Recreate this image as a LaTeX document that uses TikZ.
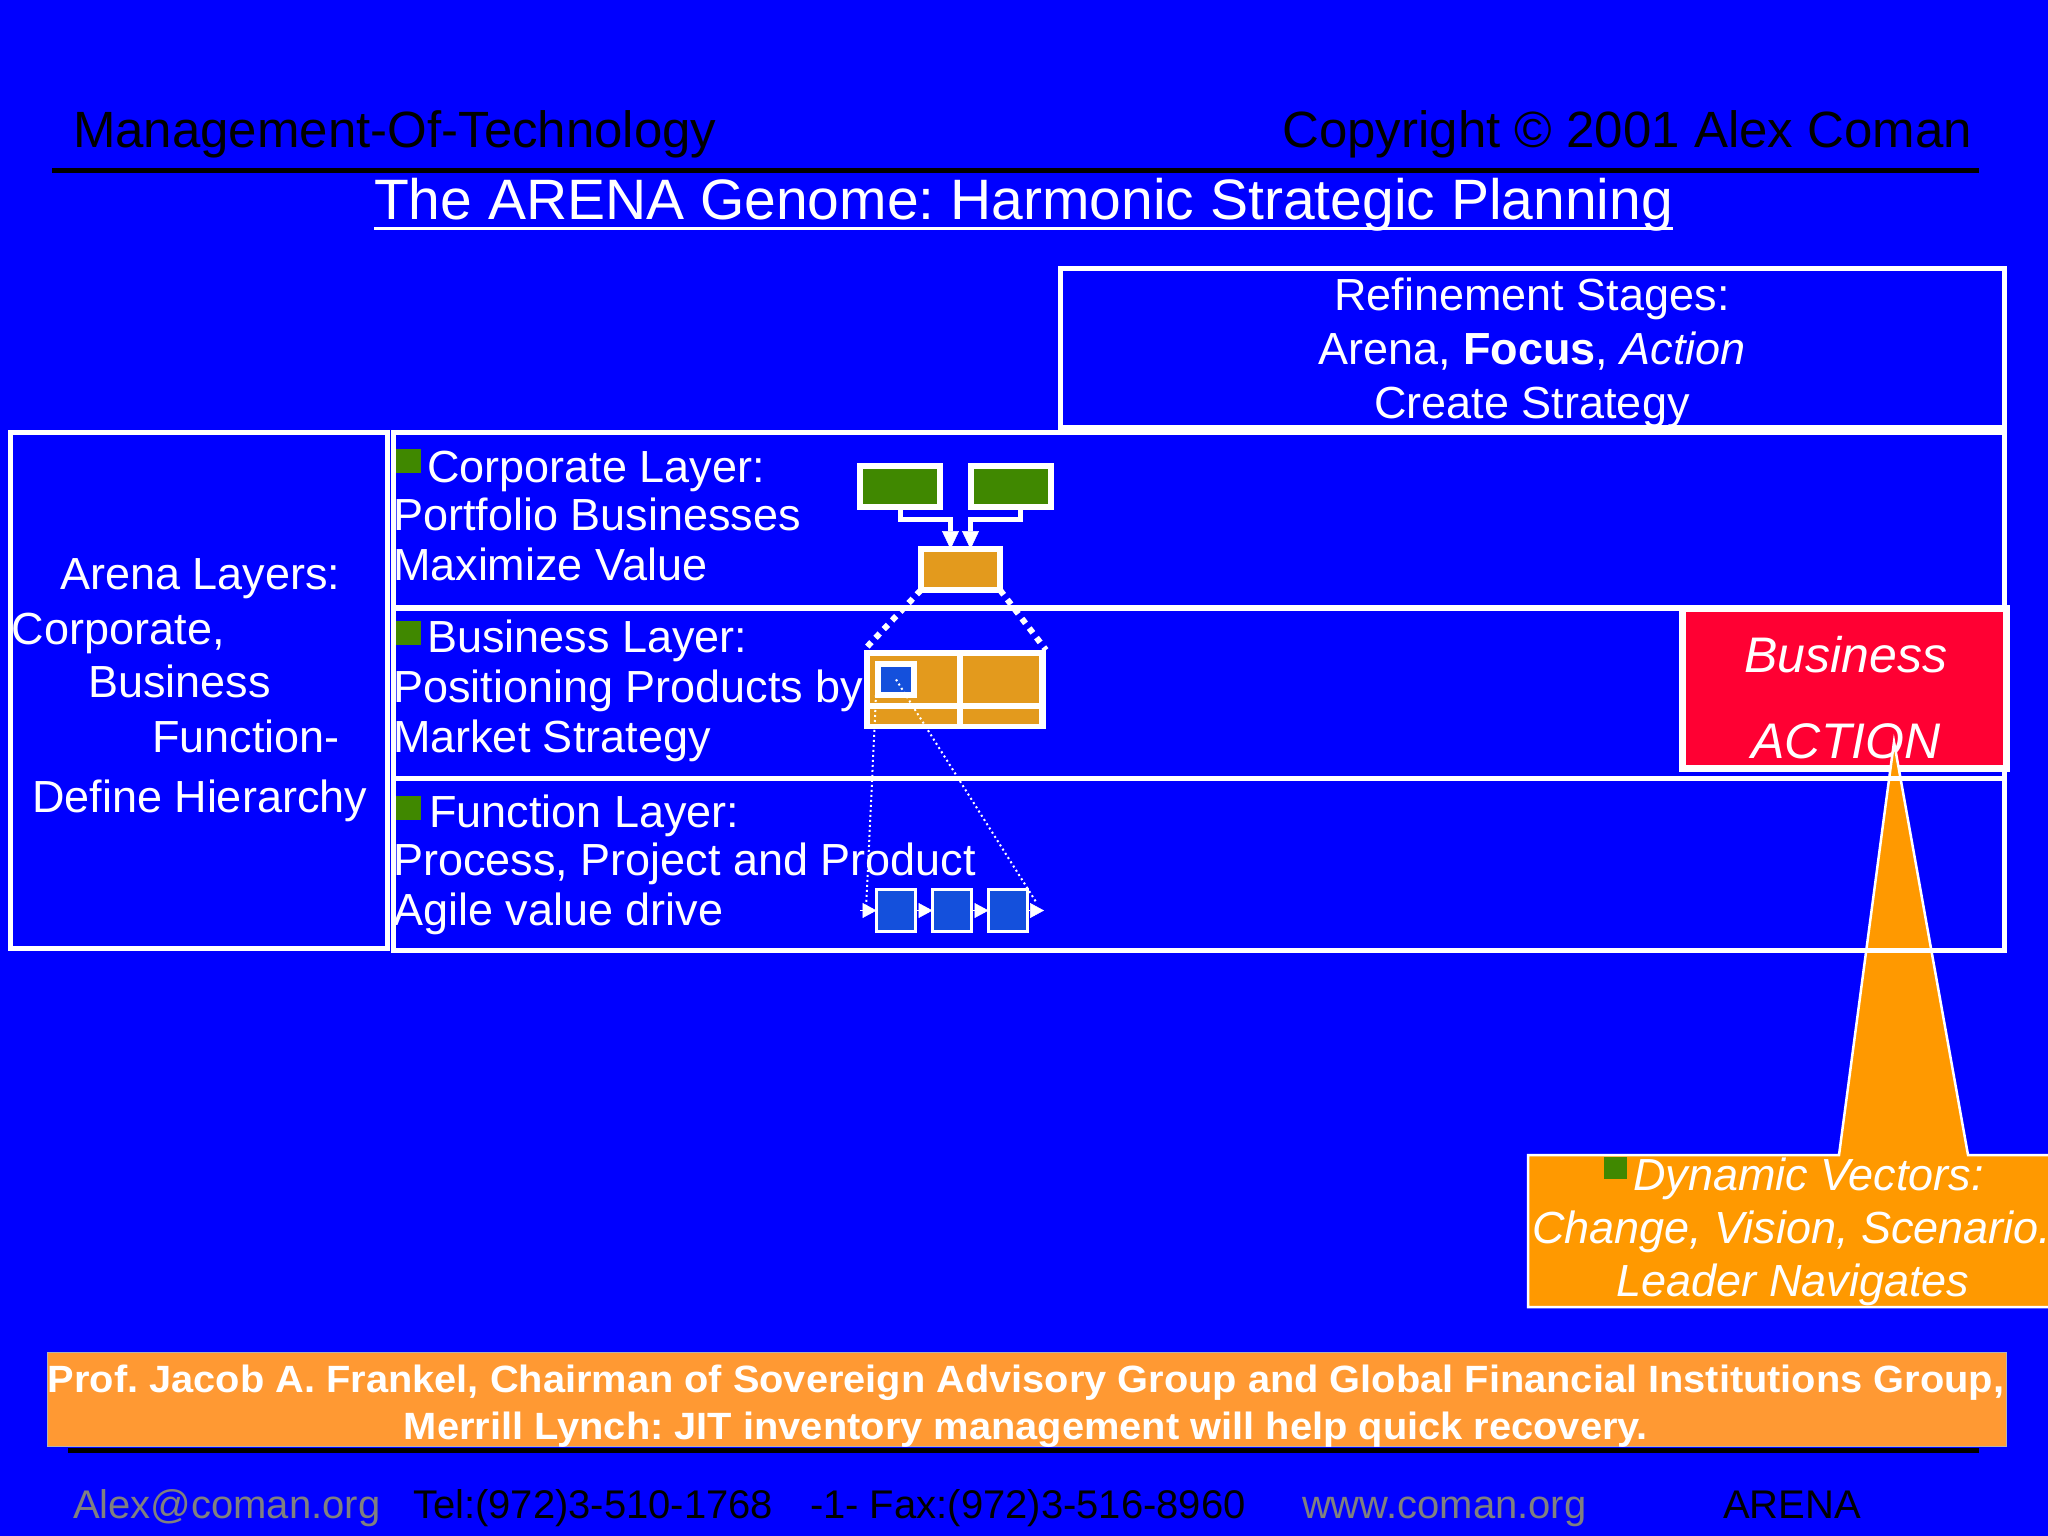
\documentclass[tikz,border=0pt]{standalone}
\usepackage{fontspec}
\setmainfont{Liberation Sans}
\usepackage{graphicx}
\usetikzlibrary{arrows.meta,calc}
\definecolor{bg}{RGB}{0,0,255}
\definecolor{lgreen}{RGB}{64,136,0}
\definecolor{dorange}{RGB}{227,154,29}
\definecolor{sblue}{RGB}{20,80,220}
\definecolor{red1}{RGB}{255,0,51}
\definecolor{corange}{RGB}{255,153,0}
\definecolor{qorange}{RGB}{255,153,51}
\definecolor{fgray}{RGB}{128,128,128}
\frenchspacing
\begin{document}
\begin{tikzpicture}[x=1pt,y=-1pt,
  txt/.style={inner sep=0pt, outer sep=0pt, text=white, font=\fontsize{45}{54}\selectfont},
  itxt/.style={txt, font=\fontsize{45}{54}\selectfont\itshape},
  hdr/.style={inner sep=0pt, outer sep=0pt, text=black, font=\fontsize{51}{60}\selectfont},
  foot/.style={inner sep=0pt, outer sep=0pt, font=\fontsize{40}{48}\selectfont},
  frame/.style={draw=white, line width=5pt, inner sep=0pt, outer sep=0pt, anchor=north west},
  bullet/.style={fill=lgreen, inner sep=0pt, outer sep=0pt, minimum width=25pt, minimum height=24pt, anchor=north west},
  gbox/.style={draw=white, line width=6pt, fill=lgreen, inner sep=0pt, outer sep=0pt, anchor=north west, minimum width=80pt, minimum height=41pt},
  obox/.style={draw=white, line width=6pt, fill=dorange, inner sep=0pt, outer sep=0pt, anchor=north west, minimum width=79pt, minimum height=41pt},
  fbox/.style={draw=white, line width=3pt, fill=sblue, inner sep=0pt, outer sep=0pt, anchor=center, minimum width=39pt, minimum height=42pt},
  conn/.style={draw=white, line width=5pt, -{Triangle[length=18pt,width=17pt,line width=0.5pt]}},
  tipA/.style={draw=white, line width=1pt, -{Triangle[length=14pt,width=15pt,line width=0.5pt]}},
  dotthick/.style={draw=white, line width=6pt, dash pattern=on 6pt off 6pt},
  dotthin/.style={draw=white, line width=2pt, dash pattern=on 2pt off 3pt}
]
\useasboundingbox (0,0) rectangle (2048,1536);
\fill[bg] (0,0) rectangle (2048,1536);

% header
\node[hdr, anchor=base west] (hl) at (73,148) {Management-Of-Technology};
\node[hdr, anchor=base east] (hr) at (1972,148) {Copyright © 2001 Alex Coman};
\coordinate (r1) at (52,170);
\coordinate (r2) at (1979,170);
\draw[black, line width=5pt] (r1) -- (r2);
\node[txt, font=\fontsize{57}{66}\selectfont, anchor=base] (title) at (1023.5,219) {The ARENA Genome: Harmonic Strategic Planning};
\draw[white, line width=3pt] ([yshift=-9pt]title.base west) -- ([yshift=-9pt]title.base east);

% refinement box
\node[frame, minimum width=944pt, minimum height=159pt] (refine) at (1060.5,268.5) {};
\node[txt, anchor=base] (rf1) at (1532,310) {Refinement Stages:};
\node[txt, anchor=base] (rf2) at (1532,364) {Arena, \textbf{Focus}, \textit{Action}};
\node[txt, anchor=base] (rf3) at (1532,418) {Create Strategy};

% left box
\node[frame, minimum width=377.5pt, minimum height=516pt] (left) at (10,432.5) {};
\node[txt, anchor=base west] (al1) at (60,589) {Arena Layers:};
\node[txt, anchor=base west] (al2) at (12,644) {Corporate,};
\node[txt, anchor=base west] (al3) at (88,697) {Business};
\node[txt, anchor=base west] (al4) at (152,752) {Function-};
\node[txt, anchor=base west] (al5) at (32,812) {Define Hierarchy};

% layer boxes
\node[frame, minimum width=1611.5pt, minimum height=175pt] (corpL) at (393,432.5) {};
\node[frame, minimum width=1611.5pt, minimum height=170pt] (busL) at (393,608) {};

% layer texts
\node[bullet] (b1) at (396,449) {};
\node[txt, anchor=base west] (c1) at (427,482) {Corporate Layer:};
\node[txt, anchor=base west] (c2) at (393,530) {Portfolio Businesses};
\node[txt, anchor=base west] (c3) at (393,580) {Maximize Value};
\node[bullet] (b2) at (396,621) {};
\node[txt, anchor=base west] (d1) at (427,652) {Business Layer:};
\node[txt, anchor=base west] (d2) at (393,702) {Positioning Products by};
\node[txt, anchor=base west] (d3) at (393,752) {Market Strategy};
\node[bullet] (b3) at (396,796) {};
\node[txt, anchor=base west] (e1) at (429,827) {Function Layer:};
\node[txt, anchor=base west] (e2) at (393,875) {Process, Project and Product};
\node[txt, anchor=base west] (e3) at (393,925) {Agile value drive};

% small diagram
\node[gbox] (G1) at (860,466) {};
\node[gbox] (G2) at (971,466) {};
\node[obox] (corp) at (921,549) {};
\draw[conn] (G1.south) -- ++(0,12) -| ([xshift=-10pt]corp.north);
\draw[conn] ([xshift=9pt]G2.south) -- ++(0,12) -| ([xshift=10pt]corp.north);

\node[fill=white, inner sep=0pt, outer sep=0pt, anchor=north west, minimum width=182pt, minimum height=79pt] (bus) at (864,650) {};
\fill[dorange] (870,656) rectangle (957,703);
\fill[dorange] (963,656) rectangle (1039,703);
\fill[dorange] (870,709) rectangle (957,724);
\fill[dorange] (963,709) rectangle (1039,724);
\node[draw=white, line width=6pt, fill=sblue, inner sep=0pt, outer sep=0pt, anchor=north west, minimum width=36pt, minimum height=31pt] (sq) at (878,664) {};

\draw[dotthick] (corp.south west) -- (bus.north west);
\draw[dotthick] (corp.south east) -- (bus.north east);

\node[fbox] (F1) at (896,910.5) {};
\node[fbox] (F2) at (952,910.5) {};
\node[fbox] (F3) at (1008,910.5) {};
\coordinate (c0) at (860,910.5);
\coordinate (c4) at (1044,910.5);
\draw[tipA] (c0) -- (F1.west);
\draw[tipA] (F1.east) -- (F2.west);
\draw[tipA] (F2.east) -- (F3.west);
\draw[tipA] (F3.east) -- (c4);
\draw[dotthin] ([xshift=-2pt]sq.south west) -- ([xshift=6pt]c0);
\draw[dotthin] (sq.center) -- ([xshift=-7pt,yshift=7pt]c4);

% red action box
\node[draw=white, line width=7pt, fill=red1, inner sep=0pt, outer sep=0pt, anchor=north west, minimum width=324pt, minimum height=160pt] (act) at (1682.5,608.5) {};
\node[txt, font=\fontsize{50}{60}\selectfont\itshape, anchor=base] (act1) at (1846,672) {Business};
\node[txt, font=\fontsize{50}{60}\selectfont\itshape, anchor=base] (act2) at (1846,758) {ACTION};

% callout
\coordinate (apex) at (1894,742);
\filldraw[fill=corange, draw=white, line width=2.5pt] (1528,1155) -- (1839,1155) -- (apex) -- (1968,1155) -- (2070,1155) -- (2070,1307) -- (1528,1307) -- cycle;

% function layer box on top
\node[frame, minimum width=1611.5pt, minimum height=171.5pt] (funL) at (393,778.5) {};

% dynamic texts
\node[bullet, minimum width=23pt, minimum height=22pt] (b4) at (1604,1157) {};
\node[itxt, anchor=base west] (dv1) at (1633,1190) {Dynamic Vectors:};
\node[itxt, anchor=base west] (dv2) at (1532,1243) {Change, Vision, Scenario.};
\node[itxt, anchor=base] (dv3) at (1793,1296) {Leader Navigates};

% quote box
\coordinate (s1) at (68,1450);
\coordinate (s2) at (1979,1450);
\draw[black, line width=5pt] (s1) -- (s2);
\node[fill=qorange, draw=fgray!60!white, line width=1pt, inner sep=0pt, outer sep=0pt, anchor=north west, minimum width=1959pt, minimum height=94pt] (quote) at (47,1352) {};
\node[txt, font=\fontsize{38}{45}\selectfont\bfseries, anchor=base] (q1) at (1026,1392) {\resizebox{1956pt}{\height}{Prof. Jacob A. Frankel, Chairman of Sovereign Advisory Group and Global Financial Institutions Group,}};
\node[txt, font=\fontsize{38}{45}\selectfont\bfseries, anchor=base] (q2) at (1026,1439) {\resizebox{1244pt}{\height}{Merrill Lynch: JIT inventory management will help quick recovery.}};

% footer
\node[foot, text=fgray, anchor=base west] (f1) at (73,1518) {Alex@coman.org};
\node[foot, text=black, anchor=base west] (f2) at (413,1518) {Tel:(972)3-510-1768};
\node[foot, text=black, anchor=base west] (f3) at (810,1518) {-1- Fax:(972)3-516-8960};
\node[foot, text=fgray, anchor=base west] (f4) at (1302,1518) {www.coman.org};
\node[foot, text=black, anchor=base west] (f5) at (1723,1518) {ARENA};
\end{tikzpicture}
\end{document}
